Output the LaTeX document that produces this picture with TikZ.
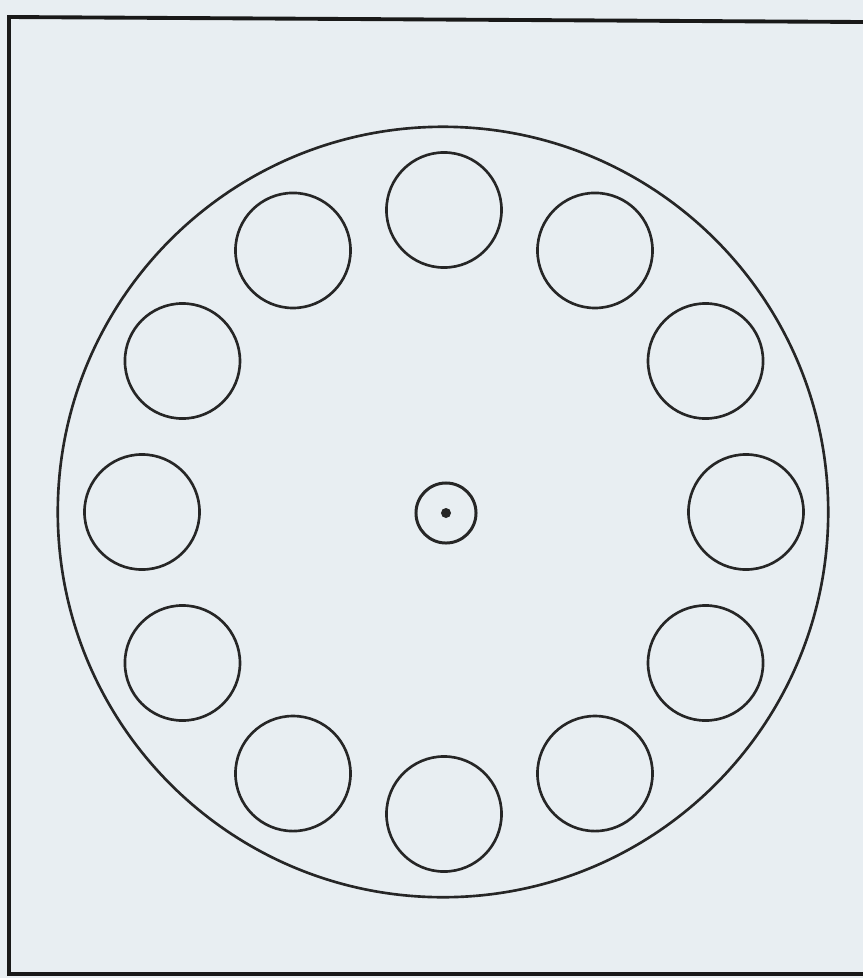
\documentclass[tikz,border=0pt]{standalone}
\definecolor{bgcol}{HTML}{E8EEF2}
\begin{document}
\begin{tikzpicture}[x=0.01cm,y=-0.01cm,
  ring/.style={draw=black!85,line width=0.75pt,circle,inner sep=0pt},
  hole/.style={ring,minimum size=1.15cm},
  hub/.style={ring,line width=0.85pt,minimum size=0.6cm},
  pin/.style={fill=black!85,circle,inner sep=0pt,minimum size=0.1cm}]
\fill[bgcol] (0,0) rectangle (863,978);
\useasboundingbox (0,0) rectangle (863,978);
\draw[black!90,line width=1.1pt] (863,22) -- (9,17) -- (9,974) -- (863,974);
\node[ring,minimum size=7.7cm] (plate) at (443,512) {};
\foreach \i in {0,...,11}{
  \node[hole] (h\i) at ({444+302*cos(90-30*\i)},{512-302*sin(90-30*\i)}) {};
}
\node[hub] (hub) at (446,513) {};
\node[pin] (pin) at (hub.center) {};
\end{tikzpicture}
\end{document}
